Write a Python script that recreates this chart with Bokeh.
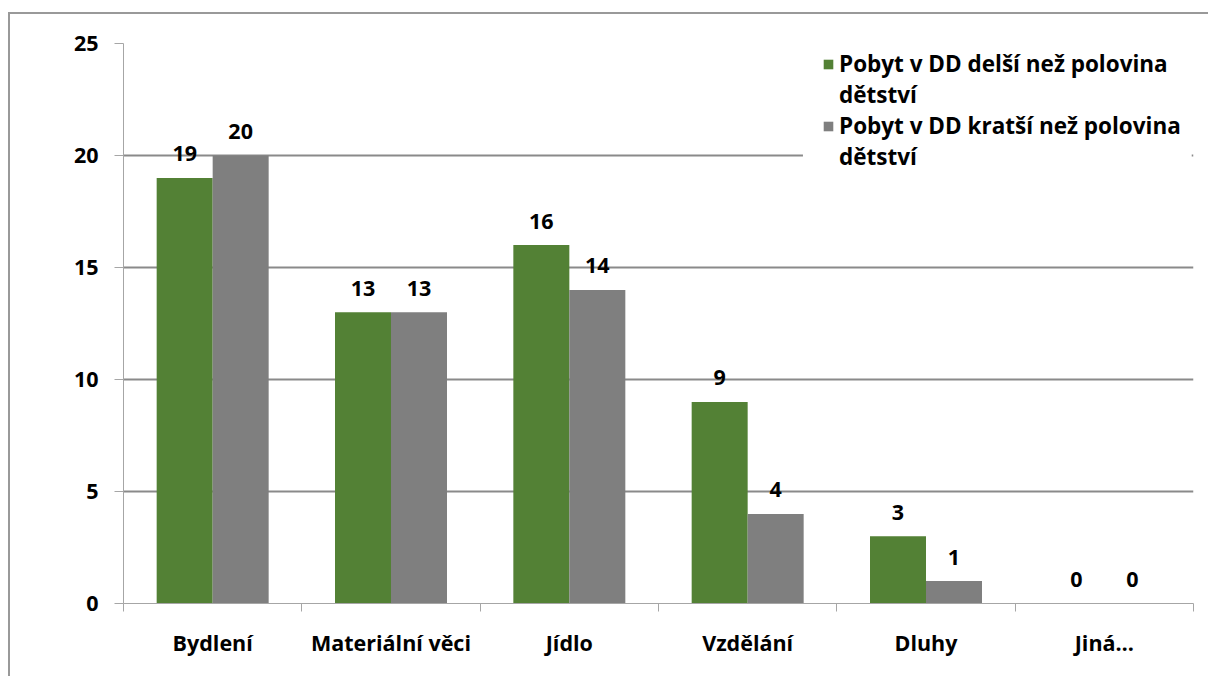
from bokeh.plotting import figure
from bokeh.models import (Legend, LegendItem, FixedTicker, ColumnDataSource,
                          Range1d, LinearAxis, Grid, BoxAnnotation)
from bokeh.core.properties import value
from bokeh.embed import file_html
from bokeh.resources import INLINE

categories = ["Bydlení", "Materiální věci", "Jídlo", "Vzdělání", "Dluhy", "Jiná…"]
longer = [19, 13, 16, 9, 3, 0]
shorter = [20, 13, 14, 4, 1, 0]
series_names = ["Pobyt v DD delší než polovina", "Pobyt v DD kratší než polovina"]
name_tail = "dětství"
y_ticks = [0, 5, 10, 15, 20, 25]

GREEN = "#538135"
GRAY = "#7f7f7f"
FONT = "Open Sans"
FSIZE = "21.5px"
BAR_W = 0.314

n = len(categories)
centers = [i + 0.5 for i in range(n)]
src1 = ColumnDataSource(dict(x=[c - BAR_W / 2 for c in centers], top=longer,
                             lbl=[str(v) for v in longer]))
src2 = ColumnDataSource(dict(x=[c + BAR_W / 2 for c in centers], top=shorter,
                             lbl=[str(v) for v in shorter]))

p = figure(width=1200, height=664, output_backend="svg", toolbar_location=None,
           x_range=Range1d(0, n), y_range=Range1d(0, 25),
           min_border_left=113, min_border_top=29, min_border_right=17,
           min_border_bottom=75, x_axis_type=None, y_axis_type=None)
p.outline_line_color = None
p.background_fill_color = "white"
p.border_fill_color = "white"
p.styles = {"border-left": "2px solid #999999", "border-top": "2px solid #999999",
            "margin-top": "12px", "margin-left": "8px"}

# grid
grid = Grid(dimension=1, ticker=FixedTicker(ticks=[t for t in y_ticks if t > 0]))
grid.grid_line_color = "#8a8a8a"
grid.grid_line_width = 2
p.add_layout(grid)

r1 = p.vbar(x="x", top="top", width=BAR_W, bottom=0, source=src1,
            fill_color=GREEN, line_color=None)
r2 = p.vbar(x="x", top="top", width=BAR_W, bottom=0, source=src2,
            fill_color=GRAY, line_color=None)
blank = p.vbar(x=[], top=[], width=BAR_W, fill_alpha=0, line_alpha=0)

for s in (src1, src2):
    p.text(x="x", y="top", text="lbl", source=s, text_align="center",
           text_baseline="alphabetic", y_offset=-24, text_font=value(FONT),
           text_font_style="bold", text_font_size=FSIZE, text_color="black")

# y axis
yax = LinearAxis(ticker=FixedTicker(ticks=y_ticks))
yax.axis_line_color = "#a6a6a6"
yax.major_tick_line_color = "#a6a6a6"
yax.major_tick_out = 9
yax.major_tick_in = 0
yax.minor_tick_line_color = None
yax.major_label_text_font = FONT
yax.major_label_text_font_style = "bold"
yax.major_label_text_font_size = FSIZE
yax.major_label_text_color = "black"
yax.major_label_standoff = 16
p.add_layout(yax, "left")

# x axis
xax = LinearAxis(ticker=FixedTicker(ticks=centers, minor_ticks=list(range(n + 1))))
xax.major_label_overrides = {c: cat for c, cat in zip(centers, categories)}
xax.axis_line_color = "#a6a6a6"
xax.major_tick_line_color = None
xax.major_tick_out = 0
xax.major_tick_in = 0
xax.minor_tick_line_color = "#a6a6a6"
xax.minor_tick_out = 8
xax.minor_tick_in = 0
xax.major_label_text_font = FONT
xax.major_label_text_font_style = "bold"
xax.major_label_text_font_size = FSIZE
xax.major_label_text_color = "black"
xax.major_label_standoff = 16
p.add_layout(xax, "below")

# white legend backdrop
p.add_layout(BoxAnnotation(left=3.81, right=5.99, top=24.8, bottom=18.9,
                           fill_color="white", fill_alpha=1.0, line_color=None,
                           level="annotation"))

legend = Legend(items=[LegendItem(label=series_names[0], renderers=[r1]),
                       LegendItem(label=name_tail, renderers=[blank]),
                       LegendItem(label=series_names[1], renderers=[r2]),
                       LegendItem(label=name_tail, renderers=[blank])],
                location=(699, 431))
legend.background_fill_alpha = 0
legend.border_line_color = None
legend.label_text_font = FONT
legend.label_text_font_style = "bold"
legend.label_text_font_size = "22.5px"
legend.label_text_color = "black"
legend.label_height = 31
legend.glyph_width = 12
legend.glyph_height = 12
legend.label_standoff = 5
legend.spacing = 0
legend.padding = 0
legend.margin = 0
p.add_layout(legend)

open("out.html", "w").write(file_html(p, INLINE))
